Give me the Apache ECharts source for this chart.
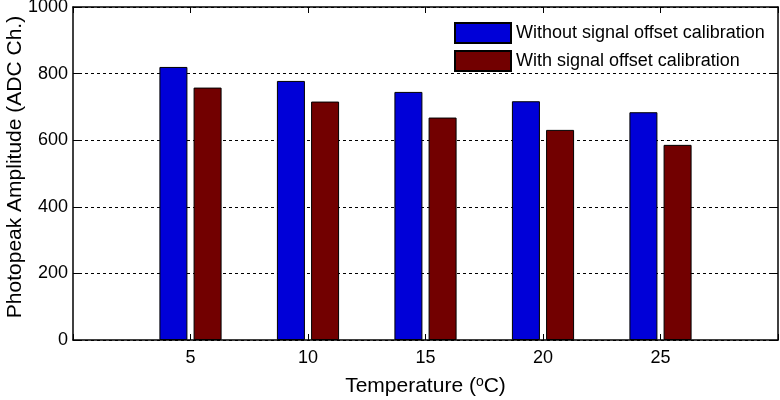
<!DOCTYPE html>
<html>
<head>
<meta charset="utf-8">
<script src="https://cdn.jsdelivr.net/npm/echarts@6/dist/echarts.min.js"></script>
<style>html,body{margin:0;padding:0;background:#fff}#c{width:780px;height:400px}</style>
</head>
<body>
<div id="c"></div>
<script>
const temperatures = [5, 10, 15, 20, 25];
const withoutCalibration = [820, 778, 745, 717, 684];
const withCalibration = [758, 716, 668, 631, 586];
const seriesNames = ['Without signal offset calibration', 'With signal offset calibration'];
const xTicks = [5, 10, 15, 20, 25];
const yTicks = [0, 200, 400, 600, 800, 1000];
const yTitle = 'Photopeak Amplitude (ADC Ch.)';

const font = 'Liberation Sans, Arial, sans-serif';
const chart = echarts.init(document.getElementById('c'));
const pairs = (vals) => temperatures.map((t, i) => [t, vals[i]]);

chart.setOption({
  animation: false,
  textStyle: { fontFamily: font },
  grid: { left: 73, right: 2, top: 7, bottom: 60, show: false, containLabel: false, outerBoundsMode: 'none' },
  legend: {
    left: 454, top: 22, orient: 'vertical', itemWidth: 56, itemHeight: 20, itemGap: 6,
    icon: 'rect',
    textStyle: { fontSize: 18, color: '#000', fontFamily: font },
    padding: 0,
    data: seriesNames
  },
  graphic: [{
    type: 'text', x: 15, y: 167, rotation: Math.PI / 2,
    style: { text: yTitle, fontSize: 21, fontFamily: font, fill: '#000',
      textAlign: 'center', textVerticalAlign: 'middle' }
  }],
  xAxis: [{
    type: 'value', min: 0, max: 30, interval: 5, position: 'bottom',
    name: '{a|Temperature (}{s|o}{a|C)}', nameLocation: 'middle', nameGap: 35,
    nameTextStyle: { rich: {
      a: { fontSize: 21, color: '#000', fontFamily: font },
      s: { fontSize: 14, color: '#000', fontFamily: font, verticalAlign: 'top', padding: [0, 0, 9, 0] }
    } },
    axisLine: { lineStyle: { color: '#000', width: 1.5 } },
    axisTick: { inside: true, length: 6, lineStyle: { color: '#000' } },
    axisLabel: { fontSize: 18, color: '#000', margin: 9,
      formatter: v => xTicks.indexOf(v) >= 0 ? String(v) : '' },
    splitLine: { show: false }
  }, {
    type: 'value', min: 0, max: 30, interval: 5, position: 'top',
    axisLine: { show: true, onZero: false, lineStyle: { color: '#000', width: 1.5 } },
    axisTick: { inside: true, length: 6, lineStyle: { color: '#000' } },
    axisLabel: { show: false }, splitLine: { show: false }
  }],
  yAxis: [{
    type: 'value', min: 0, max: 1000, interval: 200, position: 'left',
    axisLine: { show: true, lineStyle: { color: '#000', width: 1.5 } },
    axisTick: { show: true, inside: true, length: 6, lineStyle: { color: '#000' } },
    axisLabel: { fontSize: 18, color: '#000', margin: 5,
      formatter: v => yTicks.indexOf(v) >= 0 ? String(v) : '' },
    splitLine: { show: true, lineStyle: { color: '#000', type: [3, 3], width: 1 } }
  }, {
    type: 'value', min: 0, max: 1000, interval: 200, position: 'right',
    axisLine: { show: true, onZero: false, lineStyle: { color: '#000', width: 1.5 } },
    axisTick: { show: true, inside: true, length: 6, lineStyle: { color: '#000' } },
    axisLabel: { show: false }, splitLine: { show: false }
  }],
  series: [{
    name: seriesNames[0], type: 'bar', data: pairs(withoutCalibration),
    barWidth: 28, barGap: '22%',
    itemStyle: { color: '#0000d8', borderColor: '#000', borderWidth: 1 }
  }, {
    name: seriesNames[1], type: 'bar', data: pairs(withCalibration),
    barWidth: 28, barGap: '22%',
    itemStyle: { color: '#720000', borderColor: '#000', borderWidth: 1 }
  }]
});
</script>
</body>
</html>
